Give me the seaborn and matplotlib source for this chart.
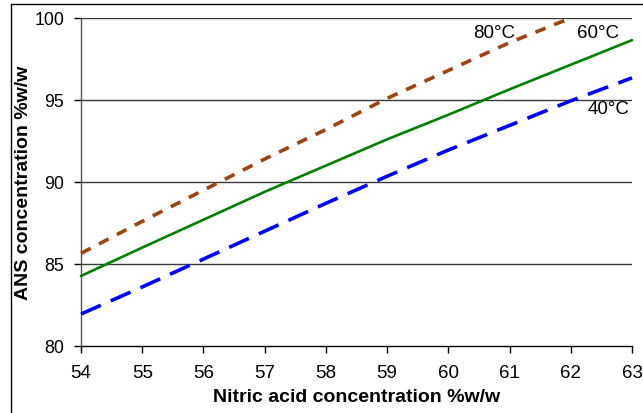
import matplotlib
matplotlib.use("Agg")
import matplotlib.pyplot as plt
import seaborn as sns
import pandas as pd
from matplotlib.lines import Line2D

# values
x_80 = [54, 55, 56, 57, 58, 59, 60, 61, 62]
y_80 = [85.65, 87.6, 89.5, 91.4, 93.2, 95.1, 96.8, 98.5, 100.0]
x_60 = [54, 55, 56, 57, 58, 59, 60, 61, 62, 63]
y_60 = [84.27, 86.0, 87.7, 89.4, 91.0, 92.6, 94.1, 95.65, 97.15, 98.65]
x_40 = [54, 55, 56, 57, 58, 59, 60, 61, 62, 63]
y_40 = [81.95, 83.6, 85.3, 87.0, 88.7, 90.35, 91.95, 93.45, 94.95, 96.35]

x_ticks = list(range(54, 64))
y_ticks = [80, 85, 90, 95, 100]

sns.set_style("white")
plt.rcParams['font.family'] = ['Liberation Sans', 'DejaVu Sans']
plt.rcParams['text.color'] = 'black'
plt.rcParams['axes.labelcolor'] = 'black'
plt.rcParams['xtick.color'] = 'black'
plt.rcParams['ytick.color'] = 'black'

fig = plt.figure(figsize=(6.43, 4.14), dpi=100)
ax = fig.add_axes([81 / 643, 1 - 347 / 414, (632 - 81) / 643, (347 - 19) / 414])

for yv in y_ticks[1:]:
    ax.axhline(yv, color='#3a3a3a', lw=1.0, zorder=1)

df80 = pd.DataFrame({'x': x_80, 'y': y_80})
df60 = pd.DataFrame({'x': x_60, 'y': y_60})
df40 = pd.DataFrame({'x': x_40, 'y': y_40})

sns.lineplot(data=df80, x='x', y='y', ax=ax, color='#A0420F', lw=2.6)
sns.lineplot(data=df60, x='x', y='y', ax=ax, color='#008000', lw=1.9)
sns.lineplot(data=df40, x='x', y='y', ax=ax, color='#0000FF', lw=2.6)
lines = ax.get_lines()
lines[-3].set_dashes([3.0, 2.6])
lines[-1].set_dashes([6.0, 3.0])
for ln in lines[-3:]:
    ln.set_clip_on(False)
    ln.set_zorder(3)

ax.text(60.75, 99.1, '80°C', ha='center', va='center', fontsize=13.5)
ax.text(62.45, 99.1, '60°C', ha='center', va='center', fontsize=13.5)
ax.text(62.62, 94.5, '40°C', ha='center', va='center', fontsize=13.5)

ax.set_xlim(54, 63)
ax.set_ylim(80, 100)
ax.set_xticks(x_ticks)
ax.set_yticks(y_ticks)
ax.tick_params(axis='both', direction='out', length=5, width=1,
               left=True, bottom=True)
ax.tick_params(axis='x', pad=8, labelsize=13.5)
ax.tick_params(axis='y', pad=7, labelsize=12.8)
for s in ['top', 'right']:
    ax.spines[s].set_visible(False)
ax.spines['left'].set_color('#555555')
ax.spines['bottom'].set_color('black')
for s in ['left', 'bottom']:
    ax.spines[s].set_linewidth(1)

ax.set_xlabel('Nitric acid concentration %w/w', fontsize=14, fontweight='bold', labelpad=5)
ax.set_ylabel('ANS concentration %w/w', fontsize=14, fontweight='bold', labelpad=2)

# figure frame (only the left and top edges are visible)
fig.add_artist(Line2D([10.5 / 643, 10.5 / 643], [0, 1 - 4.5 / 414],
                      transform=fig.transFigure, color='black', lw=1))
fig.add_artist(Line2D([10.5 / 643, 1], [1 - 4.5 / 414, 1 - 4.5 / 414],
                      transform=fig.transFigure, color='black', lw=1))

fig.savefig('out.png', dpi=100)
